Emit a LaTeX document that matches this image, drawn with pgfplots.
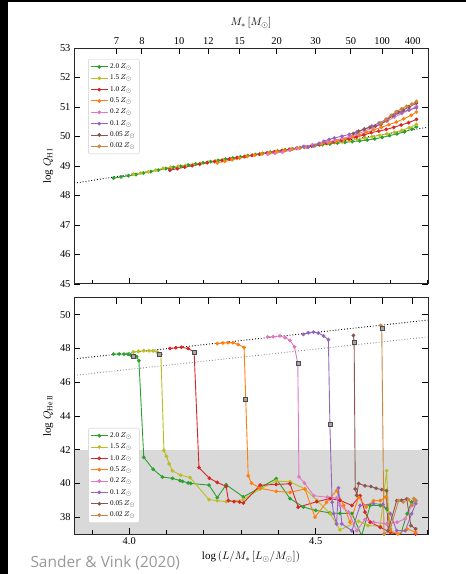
\documentclass[border=0pt]{standalone}
\usepackage{fontspec}
\setmainfont{Liberation Serif}
\newfontfamily\opensans{Open Sans}
\usepackage{pgfplots}
\pgfplotsset{compat=1.18}
\definecolor{cA}{HTML}{2CA02C}
\definecolor{cB}{HTML}{BCBD22}
\definecolor{cC}{HTML}{D62728}
\definecolor{cD}{HTML}{FF7F0E}
\definecolor{cE}{HTML}{E377C2}
\definecolor{cF}{HTML}{9467BD}
\definecolor{cG}{HTML}{8C564B}
\definecolor{cH}{HTML}{CD853F}
\pgfplotsset{
  base/.style={scale only axis, width=354bp, height=236bp, anchor=south west,
    xmin=3.852, xmax=4.801,
    /pgf/number format/assume math mode=true,
    tick label style={font=\fontsize{10.5}{12}\selectfont},
    label style={font=\fontsize{11}{12}\selectfont},
    tick align=inside, major tick length=6bp, minor tick length=3.5bp,
    tick style={line width=0.8pt, black},
    axis line style={line width=1pt, black!85},
  },
  ser/.style={color=#1, line width=0.9pt, mark=*, mark size=1.4pt, mark options={solid, fill=#1, draw=#1}},
  lg/.style={font=\fontsize{7.2}{8}\selectfont, draw=black!20, rounded corners=2pt, fill=white,
    inner xsep=2pt, inner ysep=2.5pt, row sep=1.1pt, cells={anchor=west}},
  gsq/.style={only marks, mark=square*, mark size=2pt, mark options={fill=gray!70, draw=gray!60!black, line width=0.4pt}},
}
\begin{document}
\begin{tikzpicture}
\useasboundingbox (0,0) rectangle (466bp,574bp);
\fill[white] (0,0) rectangle (466bp,574bp);
\fill[black] (0,0) rectangle (8bp,574bp);
\fill[black] (0,571.5bp) rectangle (466bp,574bp);

% ---------------- top panel ----------------
\begin{axis}[base, at={(74bp,290bp)},
  ymin=45, ymax=53, ytick={45,46,...,53},
  xtick={4.0,4.5}, xticklabels={}, minor xtick={3.9,4.1,4.2,4.3,4.4,4.6,4.7,4.8},
  xtick pos=bottom, ytick pos=both,
  ylabel={log $Q_{\mathrm{H\,I}}$},
  ylabel style={at={(axis description cs:-0.073,0.5)}, anchor=center},
  legend style={lg, at={(0.04,0.953)}, anchor=north west},
]
\addplot[black, dotted, line width=0.9pt, forget plot] coordinates {(3.86,48.43) (4.80,50.31)};
\addplot[ser=cA] coordinates {(3.958,48.59)(3.978,48.63)(3.998,48.67)(4.018,48.71)(4.038,48.76)(4.058,48.81)(4.078,48.86)(4.098,48.91)(4.118,48.95)(4.138,48.99)(4.158,49.03)(4.178,49.07)(4.198,49.11)(4.218,49.15)(4.238,49.19)(4.258,49.23)(4.278,49.27)(4.298,49.31)(4.318,49.35)(4.338,49.39)(4.358,49.43)(4.378,49.47)(4.398,49.51)(4.418,49.55)(4.438,49.58)(4.458,49.62)(4.478,49.65)(4.498,49.69)(4.518,49.72)(4.538,49.75)(4.558,49.78)(4.578,49.80)(4.598,49.83)(4.618,49.85)(4.638,49.88)(4.658,49.92)(4.678,49.97)(4.698,50.03)(4.718,50.09)(4.738,50.16)(4.758,50.25)(4.770,50.33)};
\addlegendentry{2.0\,$Z_\odot$}
\addplot[ser=cB] coordinates {(4.011,48.72)(4.031,48.76)(4.051,48.80)(4.071,48.86)(4.091,48.92)(4.111,48.96)(4.131,48.99)(4.151,49.02)(4.171,49.05)(4.191,49.09)(4.211,49.13)(4.231,49.17)(4.251,49.21)(4.271,49.25)(4.291,49.29)(4.311,49.33)(4.331,49.37)(4.351,49.41)(4.371,49.45)(4.391,49.49)(4.411,49.53)(4.431,49.57)(4.451,49.61)(4.471,49.65)(4.491,49.68)(4.511,49.72)(4.531,49.76)(4.551,49.79)(4.571,49.82)(4.591,49.86)(4.611,49.90)(4.631,49.94)(4.651,49.99)(4.671,50.04)(4.691,50.09)(4.711,50.14)(4.731,50.21)(4.751,50.30)(4.770,50.41)};
\addlegendentry{1.5\,$Z_\odot$}
\addplot[ser=cC] coordinates {(4.109,48.86)(4.129,48.91)(4.149,48.96)(4.169,49.01)(4.189,49.06)(4.209,49.11)(4.229,49.15)(4.249,49.19)(4.269,49.24)(4.289,49.28)(4.309,49.32)(4.329,49.36)(4.349,49.40)(4.369,49.44)(4.389,49.48)(4.409,49.52)(4.429,49.56)(4.449,49.60)(4.469,49.64)(4.489,49.68)(4.509,49.72)(4.529,49.77)(4.549,49.82)(4.569,49.87)(4.589,49.92)(4.609,49.98)(4.629,50.05)(4.649,50.13)(4.669,50.18)(4.689,50.24)(4.709,50.31)(4.729,50.39)(4.749,50.47)(4.770,50.58)};
\addlegendentry{1.0\,$Z_\odot$}
\addplot[ser=cD] coordinates {(4.236,49.11)(4.256,49.16)(4.276,49.21)(4.296,49.27)(4.316,49.33)(4.336,49.37)(4.356,49.41)(4.376,49.45)(4.396,49.49)(4.416,49.53)(4.436,49.57)(4.456,49.61)(4.476,49.65)(4.496,49.70)(4.516,49.75)(4.536,49.80)(4.556,49.85)(4.576,49.91)(4.596,49.98)(4.616,50.05)(4.636,50.14)(4.656,50.23)(4.676,50.31)(4.696,50.40)(4.716,50.49)(4.736,50.60)(4.756,50.72)(4.770,50.83)};
\addlegendentry{0.5\,$Z_\odot$}
\addplot[ser=cE] coordinates {(4.371,49.40)(4.391,49.43)(4.411,49.47)(4.431,49.53)(4.451,49.60)(4.471,49.66)(4.491,49.72)(4.511,49.77)(4.531,49.82)(4.551,49.87)(4.571,49.93)(4.591,50.00)(4.611,50.08)(4.631,50.18)(4.651,50.29)(4.671,50.40)(4.691,50.52)(4.711,50.66)(4.731,50.78)(4.751,50.90)(4.770,51.02)};
\addlegendentry{0.2\,$Z_\odot$}
\addplot[ser=cF] coordinates {(4.467,49.66)(4.480,49.64)(4.494,49.68)(4.508,49.76)(4.522,49.84)(4.536,49.90)(4.550,49.95)(4.570,50.01)(4.590,50.07)(4.610,50.15)(4.630,50.25)(4.650,50.35)(4.670,50.46)(4.690,50.58)(4.710,50.72)(4.730,50.82)(4.750,50.90)(4.770,50.97)};
\addlegendentry{0.1\,$Z_\odot$}
\addplot[ser=cG] coordinates {(4.601,50.10)(4.615,50.18)(4.630,50.25)(4.645,50.31)(4.660,50.35)(4.675,50.42)(4.690,50.55)(4.705,50.70)(4.720,50.82)(4.735,50.90)(4.750,51.00)(4.770,51.13)};
\addlegendentry{0.05\,$Z_\odot$}
\addplot[ser=cH] coordinates {(4.674,50.45)(4.688,50.58)(4.702,50.72)(4.716,50.84)(4.730,50.94)(4.744,51.02)(4.758,51.10)(4.770,51.19)};
\addlegendentry{0.02\,$Z_\odot$}
\end{axis}
% mass axis on top of top panel
\begin{axis}[base, at={(74bp,290bp)}, ymin=45, ymax=53,
  axis x line*=top, axis y line=none, tick align=inside,
  xtick={3.966,4.034,4.134,4.212,4.296,4.395,4.500,4.594,4.678,4.760},
  xticklabels={7,8,10,12,15,20,30,50,100,400}, minor xtick={},
  xlabel={$M_*\,[M_\odot]$},
  xlabel style={yshift=2bp},
]
\addplot[draw=none] coordinates {(4.0,46)};
\end{axis}

% ---------------- bottom panel ----------------
\begin{axis}[base, at={(74bp,40bp)}, axis on top,
  ymin=37, ymax=51, ytick={38,40,...,50},
  xtick={4.0,4.5}, xticklabels={4.0,4.5}, minor xtick={3.9,4.1,4.2,4.3,4.4,4.6,4.7,4.8},
  xtick pos=bottom, ytick pos=both,
  ylabel={log $Q_{\mathrm{He\,II}}$},
  ylabel style={at={(axis description cs:-0.073,0.5)}, anchor=center},
  xlabel={log\,$(L/M_*\,[L_\odot/M_\odot])$},
  xlabel style={at={(axis description cs:0.5,-0.06)}, anchor=north},
  legend style={lg, at={(0.04,0.047)}, anchor=south west},
]
\addplot[fill=black!15, draw=none, forget plot] coordinates {(3.80,36) (4.90,36) (4.90,42) (3.80,42)} -- cycle;
\addplot[black, dotted, line width=0.9pt, forget plot] coordinates {(3.86,47.41) (4.80,49.69)};
\addplot[black!45, dotted, line width=0.9pt, forget plot] coordinates {(3.86,46.43) (4.80,48.69)};
\addplot[ser=cA] coordinates {(3.958,47.67)(3.973,47.68)(3.986,47.67)(3.997,47.66)(4.004,47.62)(4.011,47.58)(4.020,47.52)(4.026,47.28)(4.039,41.55)(4.064,40.84)(4.089,40.38)(4.116,40.30)(4.136,40.17)(4.143,40.12)(4.158,40.03)(4.165,40.00)(4.214,39.90)(4.236,39.16)(4.260,39.92)(4.306,39.20)(4.394,40.28)(4.431,39.10)(4.467,38.60)(4.500,38.40)(4.538,38.25)(4.565,38.22)(4.597,38.22)(4.623,36.9)(4.646,38.69)(4.673,38.69)(4.690,38.5)(4.705,36.9)(4.725,36.8)(4.745,38.2)(4.757,38.9)(4.768,39.0)};
\addlegendentry{2.0\,$Z_\odot$}
\addplot[ser=cB] coordinates {(4.011,47.80)(4.025,47.84)(4.039,47.87)(4.053,47.87)(4.064,47.86)(4.075,47.80)(4.085,47.65)(4.093,41.96)(4.100,41.60)(4.107,41.16)(4.116,40.75)(4.138,40.49)(4.163,40.35)(4.214,39.04)(4.236,38.98)(4.260,38.92)(4.306,39.04)(4.351,39.67)(4.394,40.14)(4.431,40.10)(4.471,39.67)(4.503,39.0)(4.539,38.2)(4.565,37.25)(4.615,37.76)(4.640,37.5)(4.673,37.47)(4.690,40.75)(4.695,38.3)(4.705,36.8)(4.740,36.9)(4.768,36.9)};
\addlegendentry{1.5\,$Z_\odot$}
\addplot[ser=cC] coordinates {(4.109,48.00)(4.125,48.05)(4.140,48.08)(4.158,48.00)(4.174,47.80)(4.187,40.94)(4.215,40.31)(4.236,40.06)(4.260,39.82)(4.266,38.98)(4.281,38.92)(4.296,38.90)(4.306,38.84)(4.351,39.90)(4.394,39.94)(4.431,39.98)(4.453,38.59)(4.503,38.92)(4.538,39.1)(4.565,39.0)(4.597,38.69)(4.619,39.27)(4.632,38.3)(4.646,37.7)(4.673,37.4)(4.700,37.1)(4.730,36.9)(4.768,37.0)};
\addlegendentry{1.0\,$Z_\odot$}
\addplot[ser=cD] coordinates {(4.236,48.29)(4.251,48.33)(4.265,48.35)(4.278,48.35)(4.292,48.24)(4.308,48.06)(4.319,40.45)(4.328,40.02)(4.351,39.71)(4.394,39.53)(4.431,39.47)(4.471,39.67)(4.498,38.0)(4.529,38.88)(4.556,39.57)(4.575,38.7)(4.592,37.7)(4.615,39.18)(4.635,38.6)(4.655,38.98)(4.673,38.98)(4.688,39.2)(4.700,37.2)(4.720,37.0)(4.745,37.3)(4.768,37.1)};
\addlegendentry{0.5\,$Z_\odot$}
\addplot[ser=cE] coordinates {(4.371,48.69)(4.386,48.70)(4.404,48.75)(4.418,48.65)(4.431,48.49)(4.443,48.10)(4.452,47.12)(4.455,40.39)(4.470,40.02)(4.495,39.27)(4.531,39.18)(4.556,39.14)(4.565,38.7)(4.588,38.3)(4.610,37.2)(4.632,37.86)(4.655,37.7)(4.690,37.6)(4.718,37.7)(4.740,37.9)(4.757,38.7)(4.768,38.9)};
\addlegendentry{0.2\,$Z_\odot$}
\addplot[ser=cF] coordinates {(4.467,48.84)(4.480,48.94)(4.494,48.98)(4.507,48.92)(4.521,48.75)(4.534,48.53)(4.538,43.49)(4.544,38.88)(4.548,38.2)(4.556,37.6)(4.561,39.73)(4.570,37.6)(4.597,37.2)(4.619,38.69)(4.655,38.8)(4.680,38.75)(4.700,38.2)(4.717,37.2)(4.740,37.2)(4.757,38.2)(4.768,38.8)};
\addlegendentry{0.1\,$Z_\odot$}
\addplot[ser=cG] coordinates {(4.601,48.78)(4.603,48.39)(4.606,39.67)(4.610,39.30)(4.615,40.00)(4.632,39.86)(4.648,39.82)(4.662,39.71)(4.677,39.63)(4.690,39.57)(4.694,37.2)(4.717,38.98)(4.730,39.00)(4.744,39.08)(4.755,37.5)(4.768,37.3)};
\addlegendentry{0.05\,$Z_\odot$}
\addplot[ser=cH] coordinates {(4.674,49.37)(4.677,49.18)(4.683,37.0)(4.700,37.3)(4.722,38.98)(4.735,38.9)(4.749,39.05)(4.758,38.7)(4.763,39.1)(4.768,38.98)};
\addlegendentry{0.02\,$Z_\odot$}
\addplot[gsq, forget plot] coordinates {(4.011,47.55)(4.081,47.67)(4.174,47.80)(4.312,45.0)(4.452,47.12)(4.538,43.49)(4.603,48.39)(4.677,49.18)};
\end{axis}
% mass ticks on top of bottom panel
\begin{axis}[base, at={(74bp,40bp)}, ymin=37, ymax=51,
  axis x line*=top, axis y line=none, tick align=inside,
  xtick={3.966,4.034,4.134,4.212,4.296,4.395,4.500,4.594,4.678,4.760},
  xticklabels={}, minor xtick={},
]
\addplot[draw=none] coordinates {(4.0,40)};
\end{axis}

\node[anchor=base west, text=black!40, font=\opensans\fontsize{15.5}{17}\selectfont] at (27bp,7bp) {Sander \& Vink (2020)};
\end{tikzpicture}
\end{document}
